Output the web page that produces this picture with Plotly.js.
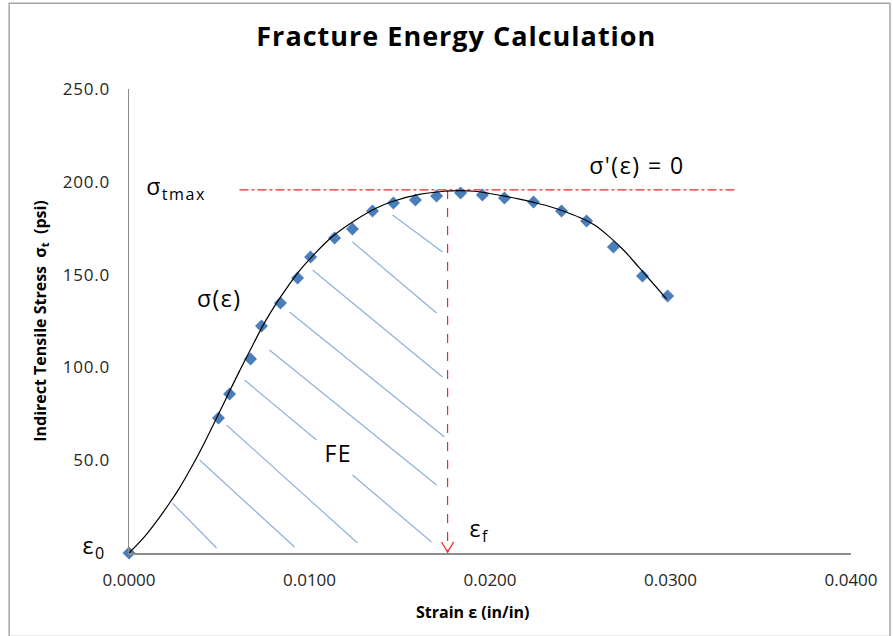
<!DOCTYPE html>
<html>
<head>
<meta charset="utf-8">
<script src="https://cdn.plot.ly/plotly-3.0.1.min.js"></script>
<style>
html,body{margin:0;padding:0;background:#fff;}
#chart{width:893px;height:636px;}
#chart .gtitle{letter-spacing:1px;}
#chart .ytick text{letter-spacing:0.8px;}
</style>
</head>
<body>
<div id="chart"></div>
<script>
// Measured test points (strain, stress)
const strainPts = [0, 0.00496, 0.00557, 0.00673, 0.00734, 0.00839, 0.00934, 0.01006, 0.01139, 0.01238, 0.01349, 0.01465, 0.01587, 0.01704, 0.01837, 0.01958, 0.02080, 0.02241, 0.02396, 0.02535, 0.02684, 0.02845, 0.02984];
const stressPts = [0, 72.7, 85.7, 104.5, 122.3, 134.7, 148.2, 159.5, 169.7, 174.6, 184.3, 188.6, 190.2, 192.3, 194.0, 192.9, 191.3, 189.1, 184.3, 178.9, 164.9, 149.2, 138.5];

// Fitted curve sigma(epsilon)
const curveStrain = [0, 0.00091, 0.00169, 0.00224, 0.00280, 0.00335, 0.00391, 0.00463, 0.00540, 0.00612, 0.00684, 0.00751, 0.00817, 0.00889, 0.00945, 0.01017, 0.01127, 0.01260, 0.01371, 0.01460, 0.01609, 0.01748, 0.01831, 0.01914, 0.01997, 0.02080, 0.02163, 0.02247, 0.02330, 0.02413, 0.02496, 0.02579, 0.02662, 0.02745, 0.02828, 0.02911, 0.02978];
const curveStress = [0, 9.4, 19.2, 26.8, 35.1, 44.3, 54.3, 68.3, 83.7, 98.0, 111.7, 124.1, 134.6, 144.9, 152.2, 160.0, 170.5, 179.7, 185.9, 189.4, 193.2, 194.9, 195.2, 194.9, 193.7, 192.3, 190.7, 188.8, 186.7, 184.0, 180.8, 176.7, 170.3, 162.7, 153.6, 144.4, 136.9];

// Peak stress and failure strain
const sigmaTmax = 195.6;
const epsF = 0.01765;
const maxLineStrain = [0.00612, 0.03371];

// Hatch segments for the fracture-energy area (strain0, stress0, strain1, stress1)
const hatchX0 = [0.00241, 0.00391, 0.00540, 0.00640, 0.01238, 0.00778, 0.00889, 0.01017, 0.01238, 0.01460];
const hatchY0 = [26.9, 50.1, 69.0, 93.2, 42.0, 109.4, 129.8, 152.5, 167.6, 182.1];
const hatchX1 = [0.00485, 0.00917, 0.01266, 0.01039, 0.01676, 0.01704, 0.01748, 0.01737, 0.01704, 0.01737];
const hatchY1 = [2.7, 3.2, 5.4, 60.9, 5.9, 36.6, 62.5, 94.8, 129.3, 162.2];

// Axis ticks
const xTicks = [0, 0.01, 0.02, 0.03, 0.04];
const xTickText = ["0.0000", "0.0100", "0.0200", "0.0300", "0.0400"];
const yTicks = [50, 100, 150, 200, 250];
const yTickText = ["50.0", "100.0", "150.0", "200.0", "250.0"];

const hx = [], hy = [];
for (let i = 0; i < hatchX0.length; i++) {
  hx.push(hatchX0[i], hatchX1[i], null);
  hy.push(hatchY0[i], hatchY1[i], null);
}

const FONT = '"Open Sans", "Noto Sans", sans-serif';
const traces = [
  {x: hx, y: hy, type: 'scatter', mode: 'lines', line: {color: '#8fb0dc', width: 1.2}, hoverinfo: 'skip', showlegend: false, cliponaxis: false},
  {x: maxLineStrain, y: [sigmaTmax, sigmaTmax], type: 'scatter', mode: 'lines', line: {color: '#ff2020', width: 1.2, dash: 'dashdot'}, showlegend: false, cliponaxis: false},
  {x: [epsF, epsF], y: [sigmaTmax, 0], type: 'scatter', mode: 'lines', line: {color: '#ff2020', width: 1.2, dash: 'dash'}, showlegend: false, cliponaxis: false},
  {x: strainPts, y: stressPts, type: 'scatter', mode: 'markers', marker: {symbol: 'diamond', size: 10, color: '#4a7ebb'}, showlegend: false, cliponaxis: false},
  {x: curveStrain, y: curveStress, type: 'scatter', mode: 'lines', line: {color: '#000000', width: 1.2, shape: 'spline', smoothing: 1}, showlegend: false, cliponaxis: false}
];

const ann = (o) => Object.assign({showarrow: false, xanchor: 'center', yanchor: 'middle', font: {family: FONT, size: 23, color: '#000'}}, o);

const layout = {
  width: 893, height: 636,
  margin: {l: 129, r: 42, t: 89, b: 83},
  paper_bgcolor: '#ffffff', plot_bgcolor: '#ffffff',
  font: {family: FONT, color: '#262626'},
  title: {text: '<b>Fracture Energy Calculation</b>', font: {family: FONT, size: 27, color: '#000'}, x: 0.511, xref: 'container', xanchor: 'center', y: 0.942, yref: 'container', yanchor: 'middle'},
  xaxis: {range: [0, 0.04], tickvals: xTicks, ticktext: xTickText, showgrid: false, zeroline: false, showline: true, linecolor: '#8c8c8c', linewidth: 1.5, ticks: '', ticklabelstandoff: 11, tickfont: {family: FONT, size: 17, color: '#262626'}, fixedrange: true},
  yaxis: {range: [0, 250], tickvals: yTicks, ticktext: yTickText, showgrid: false, zeroline: false, showline: true, linecolor: '#8c8c8c', linewidth: 1.5, ticks: '', ticklabelstandoff: 14, tickfont: {family: FONT, size: 17, color: '#262626'}, fixedrange: true,
    title: {text: '<b>Indirect Tensile Stress  σ<sub>t</sub>  (psi)</b>', font: {family: FONT, size: 16, color: '#000'}, standoff: 16}},
  shapes: [
    {type: 'rect', xref: 'paper', yref: 'paper', x0: -0.166, x1: 1.054, y0: -0.18, y1: 1.185, line: {color: '#a6a6a6', width: 1.5}, fillcolor: 'rgba(0,0,0,0)', layer: 'below'},
    {type: 'path', xref: 'x', yref: 'y', xsizemode: 'pixel', ysizemode: 'pixel', xanchor: epsF, yanchor: 0, path: 'M-6,11 L0,1 L6,11', line: {color: '#ff2020', width: 1.3}}
  ],
  annotations: [
    ann({x: 0.476, y: -0.127, xref: 'paper', yref: 'paper', text: '<b>Strain ε (in/in)</b>', font: {family: FONT, size: 16, color: '#000'}}),
    ann({x: 0.00105, y: 197, text: 'σ<sub>tmax</sub>', xanchor: 'left'}),
    ann({x: 0.00501, y: 137.4, text: 'σ(ε)'}),
    ann({x: 0.02817, y: 209, text: "σ'(ε) = 0"}),
    ann({x: 0.0116, y: 53.9, text: 'FE'}),
    ann({x: -0.0485, xref: 'paper', y: 3.5, text: 'ε<sub>0</sub>'}),
    ann({x: 0.01947, y: 12.4, text: 'ε<sub>f</sub>'})
  ]
};

Plotly.newPlot('chart', traces, layout, {displayModeBar: false, staticPlot: true}).then(() => {
  // widen the glyph spacing of the free-text labels (not the axis title annotation)
  document.querySelectorAll('#chart .annotation-text').forEach((t) => {
    if (t.textContent.indexOf('Strain') === -1) t.style.letterSpacing = '1.5px';
  });
});
</script>
</body>
</html>
